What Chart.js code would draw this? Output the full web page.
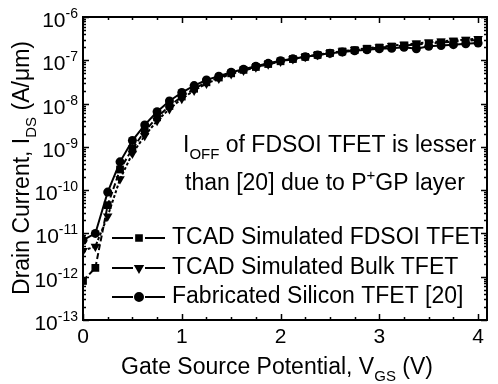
<!DOCTYPE html>
<html>
<head>
<meta charset="utf-8">
<script src="https://cdn.jsdelivr.net/npm/chart.js@4/dist/chart.umd.min.js"></script>
<style>
  body { margin: 0; background: #fff; }
  canvas { display: block; }
</style>
</head>
<body>
<canvas id="chartCanvas" width="498" height="384"></canvas>
<script>
// gate voltage (V)
const vgs = [0, 0.125, 0.25, 0.375, 0.5, 0.625, 0.75, 0.875, 1, 1.125, 1.25, 1.375, 1.5, 1.625, 1.75, 1.875,
  2, 2.125, 2.25, 2.375, 2.5, 2.625, 2.75, 2.875, 3, 3.125, 3.25, 3.375, 3.5, 3.625, 3.75, 3.875, 4];

// drain current (A/um)
const fdsoi = [8e-13, 1.6e-12, 4.5e-11, 3e-10, 9e-10, 2.3e-9, 4.8e-9, 8.8e-9, 1.45e-8, 2.2e-8, 3.1e-8, 4e-8, 5e-8, 6e-8, 7e-8, 8.2e-8,
  9.5e-8, 1.07e-7, 1.2e-7, 1.33e-7, 1.47e-7, 1.6e-7, 1.72e-7, 1.85e-7, 1.97e-7, 2.08e-7, 2.2e-7, 2.32e-7, 2.45e-7, 2.57e-7, 2.7e-7, 2.82e-7, 2.95e-7];
const bulk = [4e-12, 5e-12, 2.5e-11, 1.8e-10, 7e-10, 1.8e-9, 4e-9, 7.5e-9, 1.3e-8, 2e-8, 2.9e-8, 3.8e-8, 4.8e-8, 5.8e-8, 6.9e-8, 8.1e-8,
  9.4e-8, 1.07e-7, 1.2e-7, 1.34e-7, 1.48e-7, 1.62e-7, 1.76e-7, 1.9e-7, 2.04e-7, 2.18e-7, 2.32e-7, 2.46e-7, 2.6e-7, 2.74e-7, 2.88e-7, 3.02e-7, 3.15e-7];
const fab = [7e-12, 1e-11, 9e-11, 4.5e-10, 1.4e-9, 3.2e-9, 6.5e-9, 1.15e-8, 1.8e-8, 2.6e-8, 3.5e-8, 4.3e-8, 5.3e-8, 6.2e-8, 7.3e-8, 8.5e-8,
  9.8e-8, 1.08e-7, 1.2e-7, 1.32e-7, 1.45e-7, 1.55e-7, 1.65e-7, 1.75e-7, 1.85e-7, 1.9e-7, 2e-7, 1.85e-7, 2.1e-7, 2.2e-7, 2.3e-7, 2.4e-7, 2.5e-7];

const seriesNames = ['TCAD Simulated FDSOI TFET', 'TCAD Simulated Bulk TFET', 'Fabricated Silicon TFET [20]'];
const xTicks = [0, 1, 2, 3, 4];
const yExponents = [-13, -12, -11, -10, -9, -8, -7, -6];

const FONT = 'Arial, "Liberation Sans", sans-serif';

function pts(ys) {
  return vgs.map((v, i) => ({ x: v, y: ys[i] }));
}

// text with a sub/superscript piece in the middle
function richText(ctx, parts, x, y, size) {
  let cx = x;
  parts.forEach(p => {
    const s = p.sub || p.sup ? Math.round(size * 0.65) : size;
    ctx.font = s + 'px ' + FONT;
    let dy = 0;
    if (p.sub) dy = size * 0.3;
    if (p.sup) dy = -size * 0.42;
    ctx.fillText(p.t, cx, y + dy);
    cx += ctx.measureText(p.t).width;
  });
  return cx - x;
}

function richWidth(ctx, parts, size) {
  let w = 0;
  parts.forEach(p => {
    const s = p.sub || p.sup ? Math.round(size * 0.65) : size;
    ctx.font = s + 'px ' + FONT;
    w += ctx.measureText(p.t).width;
  });
  return w;
}

const axesPlugin = {
  id: 'axesPlugin',
  afterDraw(chart) {
    const ctx = chart.ctx;
    const a = chart.chartArea;
    const xs = chart.scales.x, ys = chart.scales.y;
    ctx.save();
    ctx.strokeStyle = '#000';
    ctx.fillStyle = '#000';

    // frame
    ctx.lineWidth = 2;
    ctx.strokeRect(a.left, a.top, a.right - a.left, a.bottom - a.top);

    // x ticks (inward, bottom and top)
    ctx.lineWidth = 1.5;
    for (let v = 0; v <= 4.001; v += 0.25) {
      const px = Math.round(xs.getPixelForValue(v)) + 0.5;
      const len = Math.abs(v - Math.round(v)) < 0.01 ? 6 : 3;
      ctx.beginPath();
      ctx.moveTo(px, a.bottom); ctx.lineTo(px, a.bottom - len);
      ctx.moveTo(px, a.top); ctx.lineTo(px, a.top + len);
      ctx.stroke();
    }
    // y ticks (inward, left and right)
    yExponents.forEach(e => {
      for (let m = 1; m <= 9; m++) {
        if (e === -6 && m > 1) break;
        const py = Math.round(ys.getPixelForValue(m * Math.pow(10, e))) + 0.5;
        const len = m === 1 ? 6 : 3;
        ctx.beginPath();
        ctx.moveTo(a.left, py); ctx.lineTo(a.left + len, py);
        ctx.moveTo(a.right, py); ctx.lineTo(a.right - len, py);
        ctx.stroke();
      }
    });

    // x tick labels
    ctx.textAlign = 'center';
    ctx.textBaseline = 'middle';
    ctx.font = '21px ' + FONT;
    xTicks.forEach(v => {
      ctx.fillText(String(v), xs.getPixelForValue(v), 337);
    });

    // y tick labels 10^e
    ctx.textAlign = 'left';
    ctx.textBaseline = 'alphabetic';
    yExponents.forEach(e => {
      const py = ys.getPixelForValue(Math.pow(10, e));
      ctx.font = '14px ' + FONT;
      const supW = ctx.measureText(String(e)).width;
      ctx.font = '21px ' + FONT;
      const baseW = ctx.measureText('10').width;
      const right = 78;
      ctx.fillText('10', right - supW - baseW, py + 10);
      ctx.font = '14px ' + FONT;
      ctx.fillText(String(e), right - supW, py + 1);
    });

    // x axis title
    const xt = [{ t: 'Gate Source Potential, V' }, { t: 'GS', sub: true }, { t: ' (V)' }];
    const xw = richWidth(ctx, xt, 23);
    richText(ctx, xt, 277 - xw / 2, 374, 23);

    // y axis title
    const yt = [{ t: 'Drain Current, I' }, { t: 'DS', sub: true }, { t: ' (A/\u03bcm)' }];
    const yw = richWidth(ctx, yt, 23);
    ctx.save();
    ctx.translate(29, 168);
    ctx.rotate(-Math.PI / 2);
    richText(ctx, yt, -yw / 2, 0, 23);
    ctx.restore();

    // annotation
    richText(ctx, [{ t: 'I' }, { t: 'OFF', sub: true }, { t: ' of FDSOI TFET is lesser' }], 183, 152, 23);
    richText(ctx, [{ t: 'than [20] due to P' }, { t: '+', sup: true }, { t: 'GP layer' }], 185, 190, 23);

    // legend
    const rows = [238, 268, 297];
    chart.data.datasets.forEach((ds, i) => {
      const y = rows[i];
      ctx.lineWidth = 2;
      ctx.setLineDash([]);
      ctx.beginPath();
      ctx.moveTo(112, y); ctx.lineTo(133, y);
      ctx.moveTo(145, y); ctx.lineTo(165, y);
      ctx.stroke();
      Chart.helpers.drawPoint(ctx, {
        pointStyle: ds.pointStyle, rotation: ds.pointRotation || 0,
        radius: 4, borderWidth: 1
      }, 139, y);
      ctx.fill();
      ctx.textBaseline = 'middle';
      ctx.font = '23px ' + FONT;
      ctx.fillText(seriesNames[i], 172, y);
      ctx.textBaseline = 'alphabetic';
    });

    ctx.restore();
  }
};

function showChart() {
  new Chart(document.getElementById('chartCanvas'), {
    type: 'line',
    data: {
      datasets: [
        {
          label: seriesNames[0], data: pts(fdsoi),
          borderColor: '#000', backgroundColor: '#000', borderWidth: 2, borderDash: [6, 3],
          pointStyle: 'rect', pointRadius: 5.5, pointBorderWidth: 0
        },
        {
          label: seriesNames[1], data: pts(bulk),
          borderColor: '#000', backgroundColor: '#000', borderWidth: 2, borderDash: [3, 2],
          pointStyle: 'triangle', pointRotation: 180, pointRadius: 5.5, pointBorderWidth: 0
        },
        {
          label: seriesNames[2], data: pts(fab),
          borderColor: '#000', backgroundColor: '#000', borderWidth: 2,
          pointStyle: 'circle', pointRadius: 4.5, pointBorderWidth: 0
        }
      ]
    },
    options: {
      responsive: false,
      animation: false,
      devicePixelRatio: 1,
      layout: { padding: { left: 83, right: 11, top: 17, bottom: 64 } },
      elements: { line: { tension: 0 } },
      plugins: { legend: { display: false }, tooltip: { enabled: false } },
      scales: {
        x: { type: 'linear', min: 0, max: 4.09, display: false },
        y: { type: 'logarithmic', min: 1e-13, max: 1e-6, display: false }
      }
    },
    plugins: [axesPlugin]
  });
}

showChart();
</script>
</body>
</html>
